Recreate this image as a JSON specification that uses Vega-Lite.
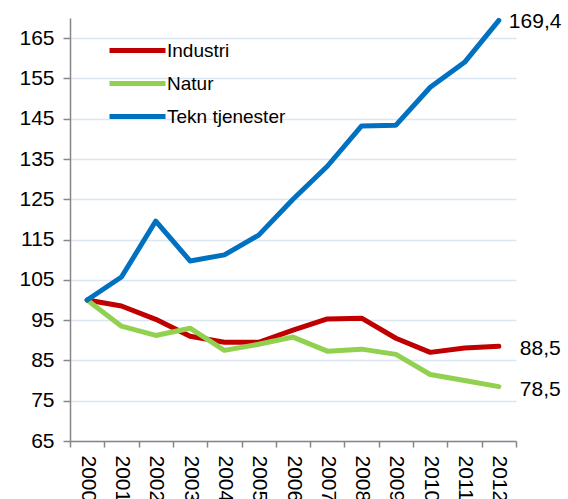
{
  "$schema": "https://vega.github.io/schema/vega-lite/v6.json",
  "width": 446,
  "height": 423,
  "autosize": {"type": "none"},
  "padding": {"left": 70, "top": 18, "right": 52, "bottom": 58},
  "config": {
    "view": {"stroke": null},
    "font": "Liberation Sans",
    "locale": {"number": {"decimal": ",", "thousands": " ", "grouping": [3], "currency": ["", " kr"]}}
  },
  "data": {
    "values": [
      {"year": "2000", "series": "Industri", "value": 100},
      {"year": "2001", "series": "Industri", "value": 98.5},
      {"year": "2002", "series": "Industri", "value": 95.2},
      {"year": "2003", "series": "Industri", "value": 91},
      {"year": "2004", "series": "Industri", "value": 89.5},
      {"year": "2005", "series": "Industri", "value": 89.5},
      {"year": "2006", "series": "Industri", "value": 92.5},
      {"year": "2007", "series": "Industri", "value": 95.3},
      {"year": "2008", "series": "Industri", "value": 95.5},
      {"year": "2009", "series": "Industri", "value": 90.5},
      {"year": "2010", "series": "Industri", "value": 87},
      {"year": "2011", "series": "Industri", "value": 88.1},
      {"year": "2012", "series": "Industri", "value": 88.5},
      {"year": "2000", "series": "Natur", "value": 100},
      {"year": "2001", "series": "Natur", "value": 93.5},
      {"year": "2002", "series": "Natur", "value": 91.2},
      {"year": "2003", "series": "Natur", "value": 93},
      {"year": "2004", "series": "Natur", "value": 87.5},
      {"year": "2005", "series": "Natur", "value": 89},
      {"year": "2006", "series": "Natur", "value": 90.8},
      {"year": "2007", "series": "Natur", "value": 87.3},
      {"year": "2008", "series": "Natur", "value": 87.8},
      {"year": "2009", "series": "Natur", "value": 86.5},
      {"year": "2010", "series": "Natur", "value": 81.5},
      {"year": "2011", "series": "Natur", "value": 80},
      {"year": "2012", "series": "Natur", "value": 78.5},
      {"year": "2000", "series": "Tekn tjenester", "value": 100},
      {"year": "2001", "series": "Tekn tjenester", "value": 105.7},
      {"year": "2002", "series": "Tekn tjenester", "value": 119.6},
      {"year": "2003", "series": "Tekn tjenester", "value": 109.7},
      {"year": "2004", "series": "Tekn tjenester", "value": 111.2},
      {"year": "2005", "series": "Tekn tjenester", "value": 116.1},
      {"year": "2006", "series": "Tekn tjenester", "value": 125},
      {"year": "2007", "series": "Tekn tjenester", "value": 133.2},
      {"year": "2008", "series": "Tekn tjenester", "value": 143.2},
      {"year": "2009", "series": "Tekn tjenester", "value": 143.4},
      {"year": "2010", "series": "Tekn tjenester", "value": 152.8},
      {"year": "2011", "series": "Tekn tjenester", "value": 159},
      {"year": "2012", "series": "Tekn tjenester", "value": 169.4}
    ]
  },
  "encoding": {
    "x": {
      "field": "year",
      "type": "ordinal",
      "bandPosition": 0.5,
      "scale": {"type": "band", "paddingInner": 0, "paddingOuter": 0},
      "axis": {
        "title": null,
        "labelAngle": 90,
        "labelFontSize": 21,
        "labelColor": "#000000",
        "domainColor": "#868686",
        "domainWidth": 1.5,
        "tickColor": "#868686",
        "tickWidth": 1.5,
        "tickSize": 6,
        "labelPadding": 8,
        "tickBand": "extent",
        "grid": false
      }
    },
    "y": {
      "field": "value",
      "type": "quantitative",
      "scale": {"domain": [65, 170], "nice": false, "zero": false},
      "axis": {
        "title": null,
        "values": [65, 75, 85, 95, 105, 115, 125, 135, 145, 155, 165],
        "labelFontSize": 21,
        "labelColor": "#000000",
        "domainColor": "#868686",
        "domainWidth": 1.5,
        "tickColor": "#868686",
        "tickWidth": 1.5,
        "tickSize": 7,
        "labelPadding": 9,
        "grid": true,
        "gridColor": "#dce6f2",
        "gridWidth": 1.5
      }
    }
  },
  "layer": [
    {
      "mark": {"type": "line", "strokeWidth": 5, "strokeCap": "round", "strokeJoin": "round"},
      "encoding": {
        "color": {
          "field": "series",
          "type": "nominal",
          "scale": {"domain": ["Industri", "Natur", "Tekn tjenester"], "range": ["#C00000", "#92D050", "#0070C0"]},
          "legend": {
            "title": null,
            "orient": "none",
            "legendX": 51,
            "legendY": 16,
            "padding": 0,
            "symbolType": "M-2,0H2",
            "symbolSize": 784,
            "symbolStrokeWidth": 5,
            "labelFontSize": 19,
            "labelColor": "#000000",
            "labelOffset": 13,
            "rowPadding": 6
          }
        }
      }
    },
    {
      "transform": [{"filter": "datum.year == '2012' && datum.series == 'Tekn tjenester'"}],
      "mark": {"type": "text", "align": "left", "baseline": "middle", "dx": 10, "dy": 2, "fontSize": 21, "color": "#000000"},
      "encoding": {"text": {"field": "value", "type": "quantitative", "format": ".1f"}}
    },
    {
      "transform": [{"filter": "datum.year == '2012' && datum.series != 'Tekn tjenester'"}],
      "mark": {"type": "text", "align": "left", "baseline": "middle", "dx": 21, "dy": 3, "fontSize": 21, "color": "#000000"},
      "encoding": {"text": {"field": "value", "type": "quantitative", "format": ".1f"}}
    }
  ]
}
